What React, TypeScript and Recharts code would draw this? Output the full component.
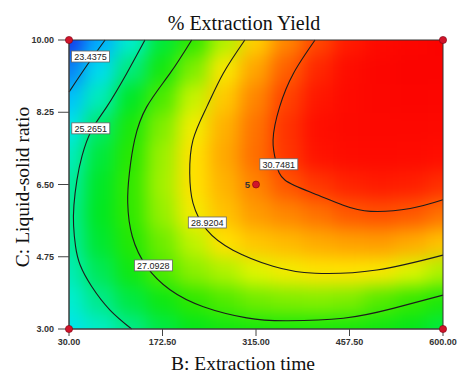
import React from 'react';
import { ComposedChart, XAxis, YAxis, Scatter, Line, ReferenceArea } from 'recharts';

// ---------- layout constants ----------
const CHART_W = 457;
const CHART_H = 376;
const MARGIN = { top: 40, right: 14, bottom: 0, left: 0 };
const Y_AXIS_W = 69;
const X_AXIS_H = 47;
const PLOT = { x: 69, y: 40, w: 374, h: 289 };

// ---------- axes ----------
const X_DOMAIN = [30, 600];
const Y_DOMAIN = [3, 10];
const X_TICKS = [30, 172.5, 315, 457.5, 600];
const Y_TICKS = [3, 4.75, 6.5, 8.25, 10];

// ---------- response surface ----------
const GRID_B = [30, 77.5, 125, 172.5, 220, 267.5, 315, 362.5, 410, 457.5, 505, 552.5, 600];
const GRID_C = [3, 3.7, 4.4, 5.1, 5.8, 6.5, 7.2, 7.9, 8.6, 9.3, 10];

const YIELD_C30 = [24.2, 24.7, 25.25, 25.85, 26.3, 26.6, 26.75, 26.8, 26.8, 26.75, 26.55, 26.3, 25.9];
const YIELD_C37 = [24.58, 25.22, 25.87, 26.52, 27.15, 27.42, 27.68, 27.8, 27.85, 27.78, 27.45, 27.2, 26.85];
const YIELD_C44 = [24.83, 25.69, 26.55, 27.4, 27.9, 28.19, 28.55, 28.78, 28.92, 28.93, 28.86, 28.53, 28.18];
const YIELD_C51 = [25.06, 26.03, 26.99, 27.67, 28.31, 28.97, 29.3, 29.44, 29.61, 29.73, 29.79, 29.61, 29.34];
const YIELD_C58 = [25.13, 26.17, 27.17, 27.99, 28.8, 29.35, 29.8, 30.05, 30.3, 30.6, 30.7, 30.6, 30.3];
const YIELD_C65 = [25.01, 26.12, 27.19, 28.1, 28.97, 29.52, 30.07, 30.62, 31.0, 31.25, 31.35, 31.3, 31.1];
const YIELD_C72 = [24.75, 25.93, 27.1, 28.04, 28.97, 29.65, 30.33, 31.0, 31.45, 31.7, 31.8, 31.75, 31.6];
const YIELD_C79 = [24.25, 25.53, 26.8, 27.82, 28.77, 29.54, 30.28, 31.05, 31.55, 31.85, 32.0, 32.0, 31.9];
const YIELD_C86 = [23.57, 24.8, 26.13, 27.39, 28.37, 29.26, 30.06, 30.85, 31.4, 31.8, 32.05, 32.15, 32.1];
const YIELD_C93 = [22.6, 24.06, 25.36, 26.66, 27.8, 28.87, 29.7, 30.51, 31.2, 31.7, 32.1, 32.25, 32.25];
const YIELD_C100 = [21.6, 23.2, 24.6, 25.95, 27.15, 28.2, 29.2, 30.05, 30.8, 31.35, 31.8, 32.1, 32.3];

const YIELD_ROWS = [
  YIELD_C30, YIELD_C37, YIELD_C44, YIELD_C51, YIELD_C58, YIELD_C65,
  YIELD_C72, YIELD_C79, YIELD_C86, YIELD_C93, YIELD_C100,
];

// ---------- contour lines (B, C) ----------
const CONTOUR_23 = [
  { b: 85, c: 10 }, { b: 58, c: 9.4 }, { b: 30, c: 8.74 },
];
const CONTOUR_25 = [
  { b: 145.8, c: 10 }, { b: 117.9, c: 9.19 }, { b: 87.5, c: 8.38 }, { b: 64.6, c: 7.82 },
  { b: 50, c: 7.2 }, { b: 42, c: 6.6 }, { b: 37.5, c: 6.0 }, { b: 37, c: 5.5 },
  { b: 40, c: 5.0 }, { b: 47, c: 4.55 }, { b: 64.6, c: 4.03 }, { b: 92.5, c: 3.46 }, { b: 125.5, c: 3.0 },
];
const CONTOUR_27 = [
  { b: 217, c: 10 }, { b: 183.9, c: 9.19 }, { b: 148.4, c: 8.38 }, { b: 130, c: 7.58 },
  { b: 122, c: 6.77 }, { b: 119.5, c: 6.05 }, { b: 126.5, c: 5.24 }, { b: 148.4, c: 4.51 },
  { b: 183.9, c: 3.95 }, { b: 234.7, c: 3.54 }, { b: 300.8, c: 3.27 }, { b: 360, c: 3.2 },
  { b: 448, c: 3.26 }, { b: 524, c: 3.5 }, { b: 600, c: 3.82 },
];
const CONTOUR_29 = [
  { b: 298, c: 10 }, { b: 265, c: 9.19 }, { b: 240, c: 8.38 }, { b: 219, c: 7.58 },
  { b: 214, c: 6.77 }, { b: 219, c: 6.05 }, { b: 240, c: 5.4 }, { b: 280, c: 4.91 },
  { b: 341, c: 4.52 }, { b: 405, c: 4.35 }, { b: 499, c: 4.43 }, { b: 600, c: 4.79 },
];
const CONTOUR_31 = [
  { b: 405, c: 10 }, { b: 372, c: 9.19 }, { b: 351, c: 8.38 }, { b: 341, c: 7.58 },
  { b: 346, c: 7.01 }, { b: 359, c: 6.61 }, { b: 402, c: 6.29 }, { b: 448, c: 6.0 },
  { b: 490, c: 5.85 }, { b: 550, c: 5.92 }, { b: 600, c: 6.13 },
];
const CONTOURS = [CONTOUR_23, CONTOUR_25, CONTOUR_27, CONTOUR_29, CONTOUR_31];

const CONTOUR_LABELS = [
  { b: 62.8, c: 9.6, text: '23.4375' },
  { b: 63.2, c: 7.86, text: '25.2651' },
  { b: 158.6, c: 4.54, text: '27.0928' },
  { b: 240.8, c: 5.58, text: '28.9204' },
  { b: 349.8, c: 6.99, text: '30.7481' },
];

const DESIGN_POINTS = [{ b: 315, c: 6.5, n: '5' }];
const CORNER_POINTS = [
  { b: 30, c: 10 }, { b: 600, c: 10 }, { b: 30, c: 3 }, { b: 600, c: 3 },
];

// ---------- colour scale ----------
const STOPS: [number, number[]][] = [
  [21.6, [20, 60, 235]],
  [23.4, [0, 185, 255]],
  [24.4, [0, 238, 230]],
  [25.3, [0, 234, 130]],
  [26.2, [0, 232, 30]],
  [27.1, [40, 232, 0]],
  [28.0, [150, 240, 0]],
  [28.6, [230, 245, 0]],
  [28.95, [255, 228, 0]],
  [29.8, [255, 155, 0]],
  [30.75, [255, 75, 0]],
  [31.5, [255, 15, 0]],
  [32.5, [250, 0, 0]],
];
function colorOf(v: number): string {
  if (v <= STOPS[0][0]) return `rgb(${STOPS[0][1].join(',')})`;
  for (let i = 1; i < STOPS.length; i++) {
    if (v <= STOPS[i][0]) {
      const [v0, c0] = STOPS[i - 1];
      const [v1, c1] = STOPS[i];
      const t = (v - v0) / (v1 - v0);
      const c = c0.map((k, j) => Math.round(k + (c1[j] - k) * t));
      return `rgb(${c.join(',')})`;
    }
  }
  return `rgb(${STOPS[STOPS.length - 1][1].join(',')})`;
}

const heatData = GRID_C.flatMap((c, i) =>
  GRID_B.map((b, j) => ({ b, c, v: YIELD_ROWS[i][j] }))
);

const CELL_W = PLOT.w / (GRID_B.length - 1);
const CELL_H = PLOT.h / (GRID_C.length - 1);

const HeatCell = (props: any) => {
  const { cx, cy, payload } = props;
  if (cx == null || cy == null) return null;
  let x0 = cx - CELL_W / 2 - 0.5;
  let x1 = cx + CELL_W / 2 + 0.5;
  let y0 = cy - CELL_H / 2 - 0.5;
  let y1 = cy + CELL_H / 2 + 0.5;
  if (payload.b === GRID_B[0]) x0 -= 40;
  if (payload.b === GRID_B[GRID_B.length - 1]) x1 += 40;
  if (payload.c === GRID_C[GRID_C.length - 1]) y0 -= 40;
  if (payload.c === GRID_C[0]) y1 += 40;
  return <rect x={x0} y={y0} width={x1 - x0} height={y1 - y0} fill={colorOf(payload.v)} />;
};

const LabelBox = (props: any) => {
  const { cx, cy, payload } = props;
  if (cx == null || cy == null) return null;
  return (
    <g>
      <rect x={cx - 19} y={cy - 5.5} width={38} height={11} fill="#ffffff" stroke="#666" strokeWidth={0.8} />
      <text x={cx} y={cy + 3.3} textAnchor="middle" fontSize={9} fontFamily="Liberation Sans, Arial, sans-serif" fill="#222">
        {payload.text}
      </text>
    </g>
  );
};

const DesignDot = (props: any) => {
  const { cx, cy, payload } = props;
  if (cx == null || cy == null) return null;
  return (
    <g>
      <circle cx={cx} cy={cy} r={3.5} fill="#d0142a" stroke="#7a0010" strokeWidth={0.6} />
      <text x={cx - 6} y={cy + 3} textAnchor="end" fontSize={9.5} fontWeight="bold" fontFamily="Liberation Sans, Arial, sans-serif" fill="#333">
        {payload.n}
      </text>
    </g>
  );
};

const CornerDot = (props: any) => {
  const { cx, cy } = props;
  if (cx == null || cy == null) return null;
  return <circle cx={cx} cy={cy} r={3.6} fill="#d0142a" stroke="#7a0010" strokeWidth={0.6} />;
};

const tickStyle = { fontSize: 9, fill: '#333', fontFamily: 'Liberation Sans, Arial, sans-serif', fontWeight: 'bold' as const };
const serif = 'Liberation Serif, Times New Roman, serif';

export default function App() {
  return (
    <div style={{ position: 'absolute', left: 0, top: 0, width: CHART_W, height: CHART_H, background: '#fff' }}>
      <style>{`.heat{filter:url(#heatBlur);clip-path:url(#plotClip);}`}</style>
      <svg width={0} height={0} style={{ position: 'absolute' }}>
        <defs>
          <filter id="heatBlur" x={-60} y={-60} width={600} height={520} filterUnits="userSpaceOnUse" colorInterpolationFilters="sRGB">
            <feGaussianBlur stdDeviation={9} />
          </filter>
          <clipPath id="plotClip" clipPathUnits="userSpaceOnUse">
            <rect x={PLOT.x} y={PLOT.y} width={PLOT.w} height={PLOT.h} />
          </clipPath>
        </defs>
      </svg>
      <div
        style={{
          position: 'absolute', top: 12, left: 0, width: 488, textAlign: 'center',
          fontFamily: serif, fontSize: 20, lineHeight: '22px', color: '#111',
        }}
      >
        % Extraction Yield
      </div>
      <ComposedChart width={CHART_W} height={CHART_H} margin={MARGIN}>
        <XAxis
          type="number"
          dataKey="b"
          domain={X_DOMAIN}
          ticks={X_TICKS}
          tickFormatter={(v: number) => v.toFixed(2)}
          height={X_AXIS_H}
          tickSize={7}
          tickMargin={3}
          tick={tickStyle}
          stroke="#444"
          interval={0}
          label={{
            content: () => (
              <text x={243} y={370} textAnchor="middle" fontSize={19.5} fontFamily={serif} fill="#111">
                B: Extraction time
              </text>
            ),
          }}
        />
        <YAxis
          type="number"
          dataKey="c"
          domain={Y_DOMAIN}
          ticks={Y_TICKS}
          tickFormatter={(v: number) => v.toFixed(2)}
          width={Y_AXIS_W}
          tickSize={11}
          tickMargin={4}
          tick={tickStyle}
          stroke="#444"
          interval={0}
          label={{
            content: () => (
              <text
                x={22}
                y={187}
                transform="rotate(-90 22 187)"
                textAnchor="middle"
                dominantBaseline="central"
                fontSize={19.5}
                fontFamily={serif}
                fill="#111"
              >
                C: Liquid-solid ratio
              </text>
            ),
          }}
        />
        <Scatter data={heatData} shape={HeatCell} className="heat" isAnimationActive={false} zIndex={50} />
        {CONTOURS.map((d, i) => (
          <Line
            key={i}
            data={d}
            dataKey="c"
            type="natural"
            dot={false}
            activeDot={false}
            stroke="#1c1c1c"
            strokeWidth={1.1}
            isAnimationActive={false}
            zIndex={420}
          />
        ))}
        <ReferenceArea x1={30} x2={600} y1={3} y2={10} fill="none" fillOpacity={0} stroke="#333" strokeWidth={1} zIndex={450} />
        <Scatter data={CONTOUR_LABELS} shape={LabelBox} isAnimationActive={false} zIndex={700} />
        <Scatter data={DESIGN_POINTS} shape={DesignDot} isAnimationActive={false} zIndex={800} />
        <Scatter data={CORNER_POINTS} shape={CornerDot} isAnimationActive={false} zIndex={800} />
      </ComposedChart>
    </div>
  );
}
